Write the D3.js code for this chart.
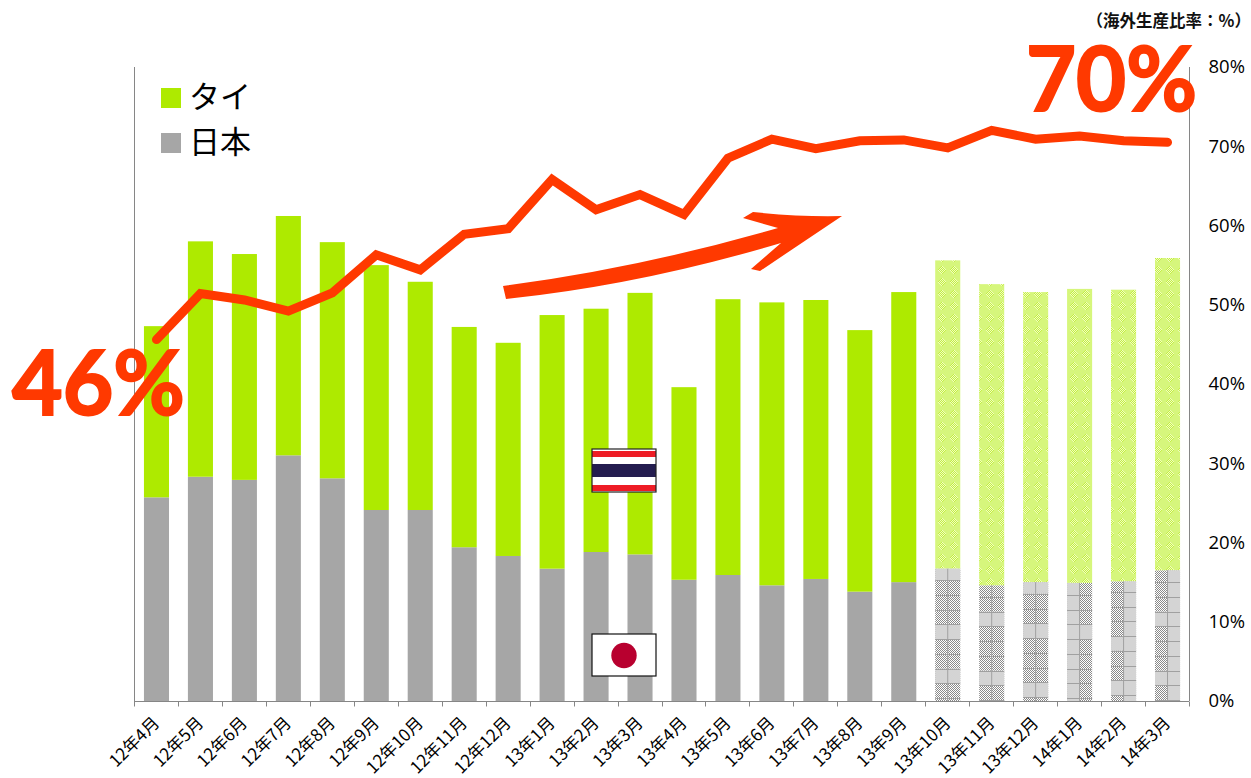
<!DOCTYPE html>
<html><head><meta charset="utf-8">
<script src="https://cdn.jsdelivr.net/npm/d3@7"></script>
<style>html,body{margin:0;padding:0;background:#fff}svg{display:block}</style>
</head><body><svg id="c" width="1251" height="778"></svg>
<script>
const months = ["12年4月","12年5月","12年6月","12年7月","12年8月","12年9月","12年10月","12年11月","12年12月","13年1月","13年2月","13年3月","13年4月","13年5月","13年6月","13年7月","13年8月","13年9月","13年10月","13年11月","13年12月","14年1月","14年2月","14年3月"];
const japan = [25.7,28.3,27.9,31.0,28.1,24.1,24.1,19.4,18.3,16.7,18.8,18.5,15.3,15.9,14.6,15.4,13.8,15.0,16.7,14.6,15.0,14.9,15.1,16.5];
const thai = [21.6,29.7,28.5,30.2,29.8,30.9,28.8,27.8,26.9,32.0,30.7,33.0,24.3,34.8,35.7,35.2,33.0,36.6,38.9,38.0,36.6,37.1,36.8,39.4];
const overseas = [45.6,51.4,50.6,49.2,51.5,56.3,54.4,58.9,59.6,65.8,62.0,63.9,61.4,68.5,70.9,69.7,70.7,70.8,69.8,72.0,70.9,71.3,70.7,70.5];
const yTicks = [0,10,20,30,40,50,60,70,80];
const firstForecast = 18;
// texture of the forecast bars: grid offset above the baseline, light bands, light half
const gridOffset = [3,1,4,3,6,1];
const lightBands = [[1,4,8],[1,5],[0,4,7],[4],[0,3],[1,5]];
const lightHalf = [null,null,null,"left","right","right"];

const RED="#ff3900", GREEN="#aeea00", GREY="#a6a6a6", AXIS="#868686";
const SANS="'Open Sans','Noto Sans CJK JP',sans-serif", JP="'Noto Sans CJK JP','Noto Sans',sans-serif";
const L=134,R=1189,B=701,T=67;
const svg=d3.select("#c");
const x=d3.scaleBand().domain(months).range([L+.5,R+.5]).paddingInner(0.43).paddingOuter(0.215);
const y=d3.scaleLinear().domain([0,80]).range([B,T]);
const bw=x.bandwidth();

// patterns
const defs=svg.append("defs");
const pg=defs.append("pattern").attr("id","pGrey").attr("patternUnits","userSpaceOnUse").attr("width",2).attr("height",2);
pg.append("rect").attr("width",2).attr("height",2).attr("fill","#fff");
pg.append("rect").attr("width",1).attr("height",1).attr("fill","#8a8a8a");
pg.append("rect").attr("x",1).attr("y",1).attr("width",1).attr("height",1).attr("fill","#8a8a8a");
const pt=defs.append("pattern").attr("id","pGreen").attr("patternUnits","userSpaceOnUse").attr("width",12).attr("height",12);
pt.append("rect").attr("width",12).attr("height",12).attr("fill","#d6f67c");
d3.range(0,8).forEach(i=>d3.range(0,8).forEach(j=>{
  const d=Math.abs(i-3.5)+Math.abs(j-3.5);
  if(d<4.5) pt.append("rect").attr("x",i+2).attr("y",j+2).attr("width",1).attr("height",1).attr("fill",(i+j)%2===0?"#f0fcc0":"#c4ef44");
}));

// bars
const jp=svg.append("g"), th=svg.append("g");
th.selectAll("rect").data(months).join("rect")
  .attr("x",d=>x(d)).attr("width",bw)
  .attr("y",(d,i)=>y(japan[i]+thai[i]))
  .attr("height",(d,i)=>y(japan[i])-y(japan[i]+thai[i]))
  .attr("fill",(d,i)=>i>=firstForecast?"url(#pGreen)":GREEN);
jp.selectAll("rect").data(months).join("rect")
  .attr("x",d=>x(d)).attr("width",bw)
  .attr("y",(d,i)=>y(japan[i])).attr("height",(d,i)=>B-y(japan[i]))
  .attr("fill",(d,i)=>i>=firstForecast?"url(#pGrey)":GREY);

// forecast bar texture
const period=14.75;
months.slice(firstForecast).forEach((m,k)=>{
  const i=k+firstForecast, g=svg.append("g"), x0=x(m), top=y(japan[i]), base=B-gridOffset[k];
  lightBands[k].forEach(b=>{
    const y1=Math.max(top,base-period*(b+1)), y2=base-period*b;
    g.append("rect").attr("x",x0).attr("width",bw).attr("y",y1).attr("height",y2-y1).attr("fill","#d4d4d4");
  });
  if(lightHalf[k]) g.append("rect").attr("x",lightHalf[k]==="left"?x0:x0+bw/2).attr("width",bw/2)
     .attr("y",top).attr("height",B-top).attr("fill","#d4d4d4");
  g.append("line").attr("x1",x0+bw/2).attr("x2",x0+bw/2).attr("y1",top).attr("y2",B).attr("stroke","#a0a0a0").attr("stroke-width",1);
  for(let yy=base; yy>top; yy-=period){
    g.append("line").attr("x1",x0).attr("x2",x0+bw).attr("y1",Math.round(yy)+.5).attr("y2",Math.round(yy)+.5).attr("stroke","#a0a0a0").attr("stroke-width",1);
  }
});

// axes
const axisG=svg.append("g").attr("stroke",AXIS).attr("stroke-width",1).attr("fill","none");
axisG.append("line").attr("x1",L+.5).attr("x2",L+.5).attr("y1",T).attr("y2",B);
axisG.append("line").attr("x1",R+.5).attr("x2",R+.5).attr("y1",T).attr("y2",B);
const edges=d3.scaleLinear().domain([0,months.length]).range([L,R]);
const xa=svg.append("g").attr("transform",`translate(0,${B+.5})`)
  .call(d3.axisBottom(x).tickSize(5).tickSizeOuter(0).tickFormat(()=>"").tickValues([]));
xa.select(".domain").attr("d",`M${L},0H${R}`).attr("stroke",AXIS).attr("fill","none");
xa.selectAll(".edge").data(d3.range(months.length+1)).join("line").attr("class","edge")
  .attr("x1",d=>Math.round(edges(d))+.5).attr("x2",d=>Math.round(edges(d))+.5).attr("y1",0).attr("y2",5).attr("stroke",AXIS);

svg.append("g").selectAll("text").data(months).join("text")
  .attr("transform",d=>`translate(${x(d)+bw/2+4},${B+23}) rotate(-45)`)
  .attr("text-anchor","end").attr("font-family",JP).attr("font-size",17).attr("fill","#000").text(d=>d);

const ya=svg.append("g").attr("transform",`translate(${R},0)`)
  .call(d3.axisRight(y).tickValues(yTicks).tickSize(0).tickPadding(19.5).tickFormat(d=>d+"%"));
ya.select(".domain").remove();
ya.selectAll("text").attr("font-family",SANS).attr("font-size",18.5).attr("fill","#000");

// overseas ratio line
svg.append("path").datum(overseas)
  .attr("d",d3.line().x((d,i)=>x(months[i])+bw/2).y(d=>y(d)))
  .attr("fill","none").attr("stroke",RED).attr("stroke-width",9).attr("stroke-linecap","round").attr("stroke-linejoin","miter");

// arrow annotation
svg.append("path")
  .attr("d","M503,286 Q640,268 778,228 L743,218 L753,212 Q800,217 842,216 L760,271 L751,269 L781,243 Q640,285 506,299 Z")
  .attr("fill",RED);

// legend
[["タイ",GREEN,88],["日本",GREY,133]].forEach(([t,c,ly])=>{
  svg.append("rect").attr("x",161).attr("y",ly).attr("width",20).attr("height",20).attr("fill",c);
  svg.append("text").attr("x",189).attr("y",ly+19.5).attr("font-family",JP).attr("font-size",31).attr("fill","#000").text(t);
});

// flags
const th0=svg.append("g").attr("transform","translate(592,449)");
[[0,43,"#fff"],[2,7,"#ee1c25"],[8,6,"#fff"],[15,13,"#241d4f"],[29,6,"#fff"],[36,6,"#ee1c25"]].forEach(([sy,h,c])=>
  th0.append("rect").attr("x",0).attr("y",sy).attr("width",64).attr("height",h).attr("fill",c));
th0.append("rect").attr("x",0).attr("y",0).attr("width",64).attr("height",43).attr("fill","none").attr("stroke","#222").attr("stroke-width",1.2);
const jp0=svg.append("g").attr("transform","translate(592,634)");
jp0.append("rect").attr("width",64).attr("height",42).attr("fill","#fff").attr("stroke","#111").attr("stroke-width",1.2);
jp0.append("circle").attr("cx",32).attr("cy",21.5).attr("r",12.7).attr("fill","#b8002f");

// big labels
const LATO="Lato,'Open Sans',sans-serif";
svg.append("text").attr("x",12).attr("y",415).attr("font-family",LATO).attr("font-weight",700).attr("font-size",89).attr("textLength",173).attr("lengthAdjust","spacingAndGlyphs").attr("fill",RED).attr("stroke",RED).attr("stroke-width",2).text("46%");
svg.append("text").attr("x",1026).attr("y",111).attr("font-family",LATO).attr("font-weight",700).attr("font-size",89).attr("textLength",171).attr("lengthAdjust","spacingAndGlyphs").attr("fill",RED).attr("stroke",RED).attr("stroke-width",2).text("70%");
svg.append("text").attr("x",1251).attr("y",27).attr("text-anchor","end").attr("font-family",JP).attr("font-weight",700).attr("font-size",16.5).attr("fill","#111").text("（海外生産比率：%）");
</script></body></html>
